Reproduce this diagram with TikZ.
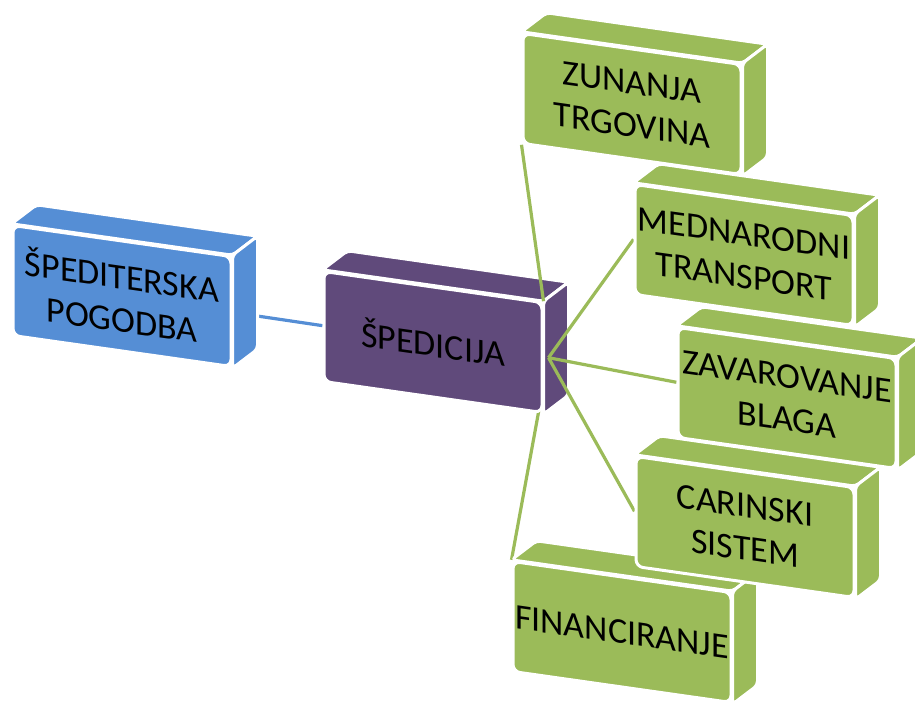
\documentclass[tikz,border=0pt]{standalone}
\usepackage{fontspec}
\setmainfont{Carlito}
\usetikzlibrary{calc}

\definecolor{bluebox}{HTML}{558ED5}
\definecolor{plumbox}{HTML}{604A7B}
\definecolor{leafbox}{HTML}{9BBB59}

\pgfdeclarelayer{back}
\pgfdeclarelayer{front}
\pgfsetlayers{back,main,front}

% top and right faces of a block
\newcommand\sides[2]{%
  \path[side=#2] (#1.north west) -- (#1.north east) -- ++(25,-19)
    -- ($(#1.north west)+(25,-19)$) -- cycle;
  \path[side=#2] (#1.north east) -- ++(25,-19)
    -- ($(#1.south east)+(25,-19)$) -- (#1.south east) -- cycle;}

\begin{document}
\begin{tikzpicture}[x=1pt,y=-1pt,
  block/.style={rectangle,fill=#1,draw=white,line width=3pt,rounded corners=7pt,
    yslant=-0.142,minimum width=218pt,minimum height=110pt,inner sep=1pt,
    align=center,font=\fontsize{36pt}{43pt}\selectfont},
  side/.style={fill=#1,draw=white,line width=3pt,rounded corners=4pt,line join=round},
  link/.style={draw=#1,line width=3.2pt}]
  \useasboundingbox (0,0) rectangle (915,706);

  \node[block=bluebox] (pog) at (122,296) {ŠPEDITERSKA\\POGODBA};
  \sides{pog}{bluebox}
  \node[block=plumbox] (sped) at (433,342) {ŠPEDICIJA};
  \sides{sped}{plumbox}

  \begin{pgfonlayer}{front}
  \node[block=leafbox] (fin) at (622,632) {FINANCIRANJE};
  \sides{fin}{leafbox}
  \node[block=leafbox] (car) at (745,527) {CARINSKI\\SISTEM};
  \sides{car}{leafbox}
  \node[block=leafbox] (zav) at (787,398) {ZAVAROVANJE\\BLAGA};
  \sides{zav}{leafbox}
  \node[block=leafbox] (med) at (744,255) {MEDNARODNI\\TRANSPORT};
  \sides{med}{leafbox}
  \node[block=leafbox] (zun) at (632,104) {ZUNANJA\\TRGOVINA};
  \sides{zun}{leafbox}
  \end{pgfonlayer}

  \coordinate (hub) at ([xshift=5pt]sped.east);

  \begin{pgfonlayer}{back}
  \draw[link=bluebox] (pog) -- (sped);
  \draw[link=leafbox] (hub) -- (fin.north west);
  \end{pgfonlayer}
  \draw[link=leafbox] (sped.north east) -- (zun.south west);
  \draw[link=leafbox] (hub) -- (med.west);
  \draw[link=leafbox] (hub) -- (zav.west);
  \draw[link=leafbox] (hub) -- (car.west);
\end{tikzpicture}
\end{document}
